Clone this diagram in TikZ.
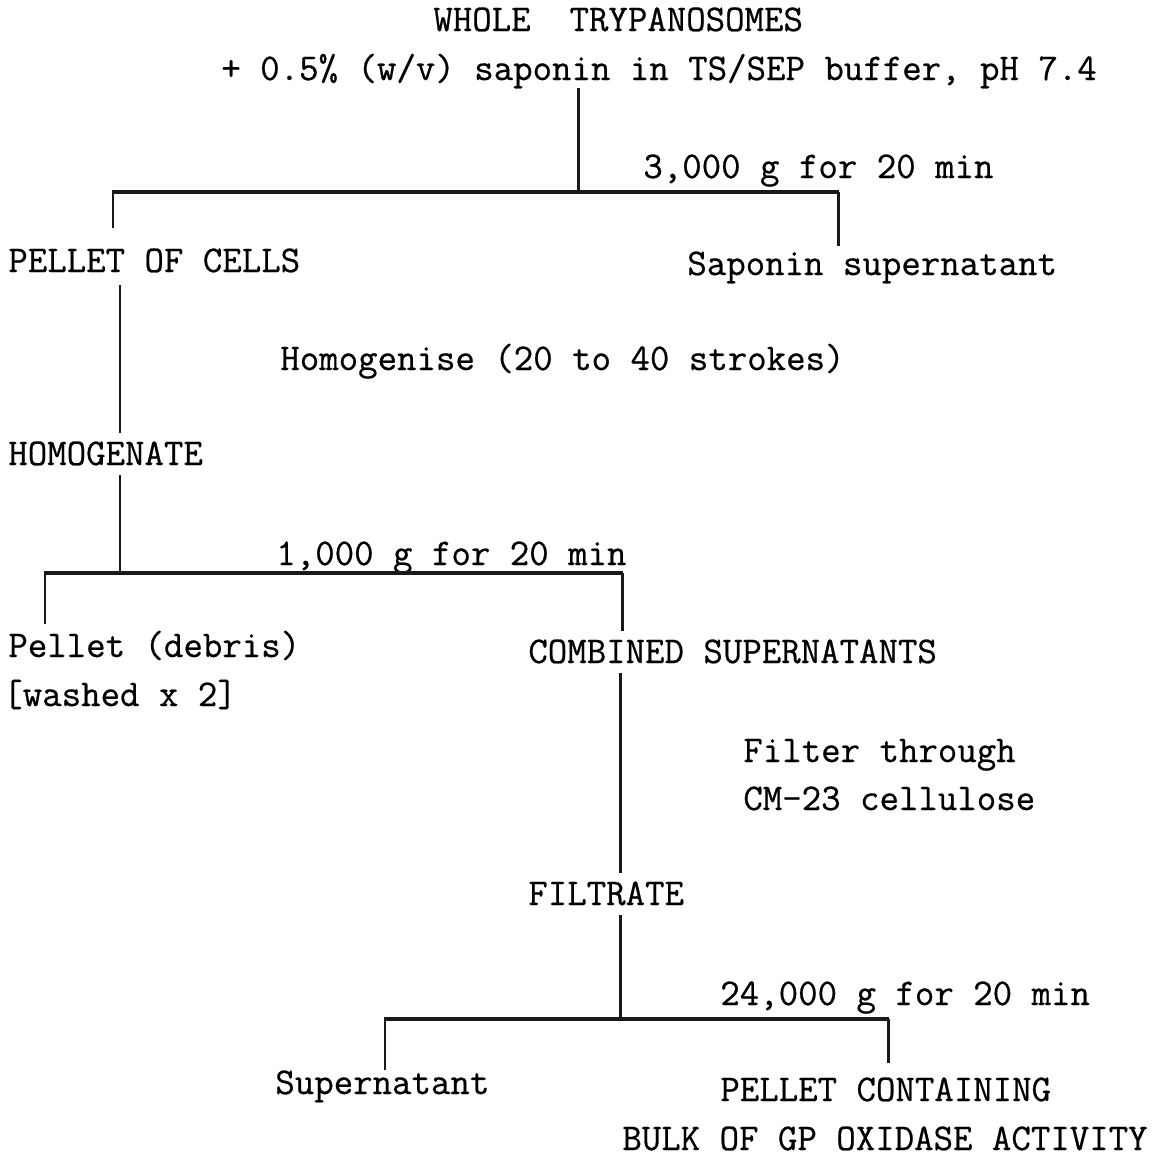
\documentclass[tikz,border=0pt]{standalone}
\usepackage{fontspec}
\newfontfamily\tw{Latin Modern Mono}[FakeBold=0.6]
\begin{document}
\begin{tikzpicture}[x=0.02cm,y=-0.02cm,
  txt/.style={anchor=base west,inner sep=0pt,text height=0.4cm,text depth=0.1cm,
    font=\tw\fontsize{21.5}{24}\selectfont},
  vline/.style={line width=1.7pt,draw=black!90},
  hbar/.style={line width=2.8pt,draw=black!90}]
\useasboundingbox (0,0) rectangle (1159,1157);
\fill[white] (0,0) rectangle (1159,1157);

% texts
\node[txt] (whole)    at (433,31)   {WHOLE\ \ TRYPANOSOMES};
\node[txt] (plus)     at (221,80)   {+ 0.5\% (w/v) saponin in TS/SEP buffer, pH 7.4};
\node[txt] (c3000)    at (643,178)  {3,000 g for 20 min};
\node[txt] (pcells)   at (8,272)    {PELLET OF CELLS};
\node[txt] (saponin)  at (687,275)  {Saponin supernatant};
\node[txt] (homog)    at (280,370)  {Homogenise (20 to 40 strokes)};
\node[txt] (homnate)  at (8,465)    {HOMOGENATE};
\node[txt] (c1000)    at (276,565)  {1,000 g for 20 min};
\node[txt] (debris)   at (8,657)    {Pellet (debris)};
\node[txt] (washed)   at (3,706)    {[washed x 2]};
\node[txt] (combined) at (528,663)  {COMBINED SUPERNATANTS};
\node[txt] (filter)   at (743,762)  {Filter through};
\node[txt] (cm23)     at (743,810)  {CM-23 cellulose};
\node[txt] (filtrate) at (528,905)  {FILTRATE};
\node[txt] (c24000)   at (720,1005) {24,000 g for 20 min};
\node[txt] (supern)   at (275,1094) {Supernatant};
\node[txt] (pcont)    at (720,1101) {PELLET CONTAINING};
\node[txt] (bulk)     at (622,1150) {BULK OF GP OXIDASE ACTIVITY};

% branch points
\coordinate (j1) at (578,192);
\coordinate (l1) at (113,192);
\coordinate (r1) at (838,192);
\coordinate (x2) at (120,300);
\coordinate (j2) at (120,573);
\coordinate (l2) at (45,573);
\coordinate (r2) at (622,573);
\coordinate (x4) at (620,700);
\coordinate (j3) at (620,1019);
\coordinate (l3) at (385,1019);
\coordinate (r3) at (888,1019);

% first split
\draw[vline,shorten <=0.06cm] (plus.south -| j1) -- (j1);
\draw[hbar] ([xshift=-0.7pt]l1) -- ([xshift=0.7pt]r1);
\draw[vline,shorten >=0.48cm] (l1) -- (pcells.north -| l1);
\draw[vline,shorten >=0.18cm] (r1) -- (saponin.north -| r1);

% homogenise
\draw[vline,shorten <=0.16cm,shorten >=0.24cm] (pcells.south -| x2) -- (homnate.north -| x2);
\draw[vline,shorten <=0.1cm] (homnate.south -| x2) -- (j2);

% second split
\draw[hbar] ([xshift=-0.7pt]l2) -- ([xshift=0.7pt]r2);
\draw[vline,shorten >=0.26cm] (l2) -- (debris.north -| l2);
\draw[vline,shorten >=0.24cm] (r2) -- (combined.north -| r2);

% filtration
\draw[vline,shorten <=0.1cm,shorten >=0.24cm] (combined.south -| x4) -- (filtrate.north -| x4);
\draw[vline,shorten <=0.1cm] (filtrate.south -| x4) -- (j3);

% third split
\draw[hbar] ([xshift=-0.7pt]l3) -- ([xshift=0.7pt]r3);
\draw[vline,shorten >=0.08cm] (l3) -- (supern.north -| l3);
\draw[vline,shorten >=0.36cm] (r3) -- (pcont.north -| r3);
\end{tikzpicture}
\end{document}
